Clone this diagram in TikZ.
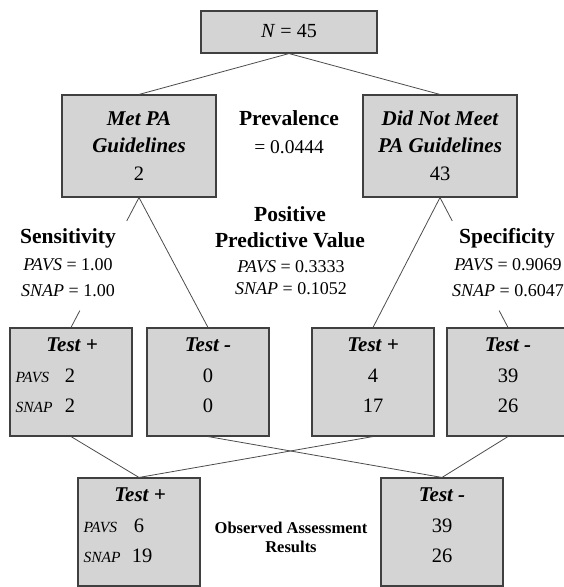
\documentclass[tikz,border=0pt]{standalone}
\usepackage{fontspec}
\setmainfont{Liberation Serif}
\usetikzlibrary{calc}
\begin{document}
\begin{tikzpicture}[x=1pt,y=-1pt,
  box/.style={draw=black!75, fill=black!17, line width=1.1pt, inner sep=0pt},
  topbox/.style={box, minimum width=176pt, minimum height=42pt},
  gbox/.style={box, minimum width=154pt, minimum height=102pt},
  tbox/.style={box, minimum width=122pt, minimum height=108pt},
  conn/.style={draw=black!70, line width=0.8pt},
  hd/.style={font=\fontsize{21}{22}\selectfont\bfseries\itshape, inner sep=0pt, anchor=base},
  num/.style={font=\fontsize{20.5}{22}\selectfont, inner sep=0pt, anchor=base},
  sclab/.style={font=\fontsize{15.5}{16}\selectfont\itshape, inner sep=0pt, anchor=base west},
  stat/.style={font=\fontsize{21.5}{22}\selectfont\bfseries, inner sep=0pt, anchor=base},
  val/.style={font=\fontsize{18}{19}\selectfont, inner sep=0pt, anchor=base},
  obs/.style={font=\fontsize{16.5}{17}\selectfont\bfseries, inner sep=0pt, anchor=base},
]
\useasboundingbox (0,0) rectangle (564,587);
\clip (0,0) rectangle (564,587);

% boxes
\node[topbox] (top) at (289,32) {};
\node[gbox] (met) at (139,146) {};
\node[gbox] (dnm) at (440,146) {};
\node[tbox] (b1) at (71,382) {};
\node[tbox] (b2) at (208,382) {};
\node[tbox] (b3) at (373,382) {};
\node[tbox] (b4) at (508,382) {};
\node[tbox] (bl) at (139,532) {};
\node[tbox] (br) at (442,532) {};

% connectors
\draw[conn] (top.south) -- (met.north);
\draw[conn] (top.south) -- (dnm.north);
\draw[conn] (met.south) -- (b2.north);
\draw[conn] (met.south) -- ($(met.south)!0.18!(b1.north)$);
\draw[conn] ($(met.south)!0.87!(b1.north)$) -- (b1.north);
\draw[conn] (dnm.south) -- (b3.north);
\draw[conn] (dnm.south) -- ($(dnm.south)!0.18!(b4.north)$);
\draw[conn] ($(dnm.south)!0.87!(b4.north)$) -- (b4.north);
\draw[conn] (b1.south) -- (bl.north);
\draw[conn] (b3.south) -- (bl.north);
\draw[conn] (b2.south) -- (br.north);
\draw[conn] (b4.south) -- (br.north);

% top
\node[num, font=\fontsize{20}{22}\selectfont] (topt) at (289,37) {\textit{N} = 45};

% level 2 texts
\node[hd] (met1) at (139,125) {Met PA};
\node[hd] (met2) at (139,152) {Guidelines};
\node[num] (met3) at (139,180) {2};
\node[hd] (dnm1) at (440,125) {Did Not Meet};
\node[hd] (dnm2) at (440,152) {PA Guidelines};
\node[num] (dnm3) at (440,180) {43};

\node[stat] (prev1) at (289,125) {Prevalence};
\node[val, font=\fontsize{19.5}{20}\selectfont] (prev2) at (289,153) {= 0.0444};

% statistics
\node[stat] (sen1) at (68,243) {Sensitivity};
\node[val] (sen2) at (68,270) {\textit{PAVS} = 1.00};
\node[val] (sen3) at (68,296) {\textit{SNAP} = 1.00};

\node[stat] (ppv1) at (290,221) {Positive};
\node[stat] (ppv2) at (290,247) {Predictive Value};
\node[val] (ppv3) at (291,272) {\textit{PAVS} = 0.3333};
\node[val] (ppv4) at (291,294) {\textit{SNAP} = 0.1052};

\node[stat] (spe1) at (507,243) {Specificity};
\node[val] (spe2) at (508,270) {\textit{PAVS} = 0.9069};
\node[val] (spe3) at (508,296) {\textit{SNAP} = 0.6047};

% level 3 contents
\node[hd] (b1h) at ($(b1.north)+(1,24)$) {Test +};
\node[sclab] (b1pl) at ($(b1.north west)+(6,55.5)$) {PAVS};
\node[num] (b1p) at ($(b1.north)+(-1,55.5)$) {2};
\node[sclab] (b1sl) at ($(b1.north west)+(6,85)$) {SNAP};
\node[num] (b1s) at ($(b1.north)+(-1,85)$) {2};

\node[hd] (b2h) at ($(b2.north)+(0,24)$) {Test -};
\node[num] (b2p) at ($(b2.north)+(0,55.5)$) {0};
\node[num] (b2s) at ($(b2.north)+(0,85)$) {0};

\node[hd] (b3h) at ($(b3.north)+(0,24)$) {Test +};
\node[num] (b3p) at ($(b3.north)+(0,55.5)$) {4};
\node[num] (b3s) at ($(b3.north)+(0,85)$) {17};

\node[hd] (b4h) at ($(b4.north)+(0,24)$) {Test -};
\node[num] (b4p) at ($(b4.north)+(0,55.5)$) {39};
\node[num] (b4s) at ($(b4.north)+(0,85)$) {26};

% level 4 contents
\node[hd] (blh) at ($(bl.north)+(1,24)$) {Test +};
\node[sclab] (blpl) at ($(bl.north west)+(6,55.5)$) {PAVS};
\node[num] (blp) at ($(bl.north)+(0,55.5)$) {6};
\node[sclab] (blsl) at ($(bl.north west)+(6,85)$) {SNAP};
\node[num] (bls) at ($(bl.north)+(3,85)$) {19};

\node[hd] (brh) at ($(br.north)+(0,24)$) {Test -};
\node[num] (brp) at ($(br.north)+(0,55.5)$) {39};
\node[num] (brs) at ($(br.north)+(0,85)$) {26};

\node[obs] (obs1) at (291,533) {Observed Assessment};
\node[obs] (obs2) at (291,552) {Results};
\end{tikzpicture}
\end{document}
